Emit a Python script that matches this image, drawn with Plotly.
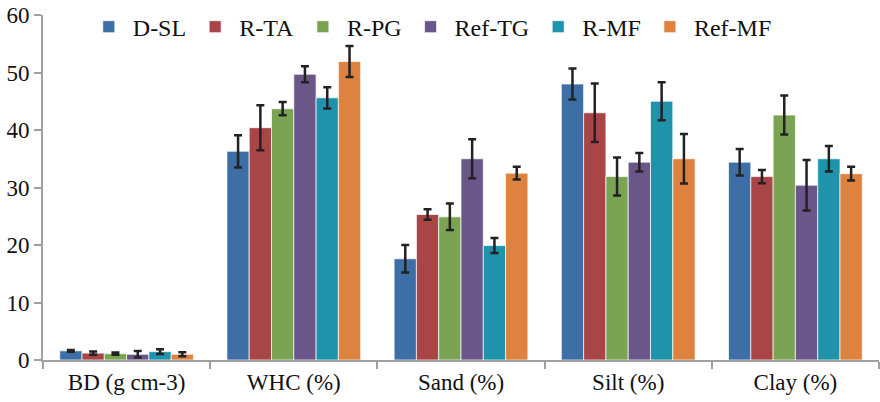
import plotly.graph_objects as go

categories = ["BD (g cm-3)", "WHC (%)", "Sand (%)", "Silt (%)", "Clay (%)"]
series_names = ["D-SL", "R-TA", "R-PG", "Ref-TG", "R-MF", "Ref-MF"]

d_sl = [1.6, 36.3, 17.6, 48.0, 34.4]
d_sl_err = [0.15, 2.8, 2.4, 2.7, 2.3]
r_ta = [1.2, 40.4, 25.3, 43.0, 31.9]
r_ta_err = [0.3, 3.9, 0.9, 5.1, 1.15]
r_pg = [1.1, 43.7, 24.9, 31.9, 42.6]
r_pg_err = [0.2, 1.15, 2.3, 3.3, 3.4]
ref_tg = [1.0, 49.7, 35.0, 34.4, 30.4]
ref_tg_err = [0.55, 1.4, 3.4, 1.6, 4.4]
r_mf = [1.45, 45.6, 19.9, 45.0, 35.0]
r_mf_err = [0.4, 1.85, 1.3, 3.3, 2.2]
ref_mf = [1.0, 51.9, 32.5, 35.0, 32.4]
ref_mf_err = [0.35, 2.7, 1.1, 4.3, 1.2]

values = [d_sl, r_ta, r_pg, ref_tg, r_mf, ref_mf]
errors = [d_sl_err, r_ta_err, r_pg_err, ref_tg_err, r_mf_err, ref_mf_err]
colors = ["#3D6EA6", "#A94546", "#7BA354", "#6A5689", "#1F93AC", "#DE8240"]

fig = go.Figure()
for name, vals, errs, col in zip(series_names, values, errors, colors):
    fig.add_trace(go.Bar(
        x=categories, y=vals, name=name,
        marker=dict(color=col, line=dict(color="rgba(255,255,255,0.7)", width=1)),
        error_y=dict(type="data", array=errs, visible=True,
                     color="#222222", thickness=2.5, width=4),
    ))

font_family = "Liberation Serif, Times New Roman, serif"
fig.update_layout(
    width=880, height=402,
    margin=dict(l=43, r=1, t=15, b=42, autoexpand=False),
    paper_bgcolor="white", plot_bgcolor="white",
    barmode="group", bargap=0.2, bargroupgap=0,
    font=dict(family=font_family, size=23, color="#111111"),
    legend=dict(orientation="h", x=0.05, y=0.965, xanchor="left", yanchor="middle",
                bgcolor="rgba(0,0,0,0)", font=dict(family=font_family, size=24),
                traceorder="normal", itemwidth=38),
    showlegend=True,
)
fig.update_xaxes(
    showline=True, linecolor="#A0A0A0", linewidth=2, automargin=False,
    ticks="outside", tickson="boundaries", ticklen=7, tickcolor="#A0A0A0", tickwidth=2,
    showgrid=False, tickfont=dict(family=font_family, size=23),
)
fig.update_yaxes(
    range=[0, 60], dtick=10, showline=True, linecolor="#A0A0A0", linewidth=2,
    automargin=False,
    ticks="outside", ticklen=7, tickcolor="#A0A0A0", tickwidth=2,
    showgrid=False, zeroline=False, tickfont=dict(family=font_family, size=23),
)

fig.write_html("out.html", config={"displayModeBar": False},
               post_script="document.body.style.margin='0px';document.body.style.overflow='hidden';")
